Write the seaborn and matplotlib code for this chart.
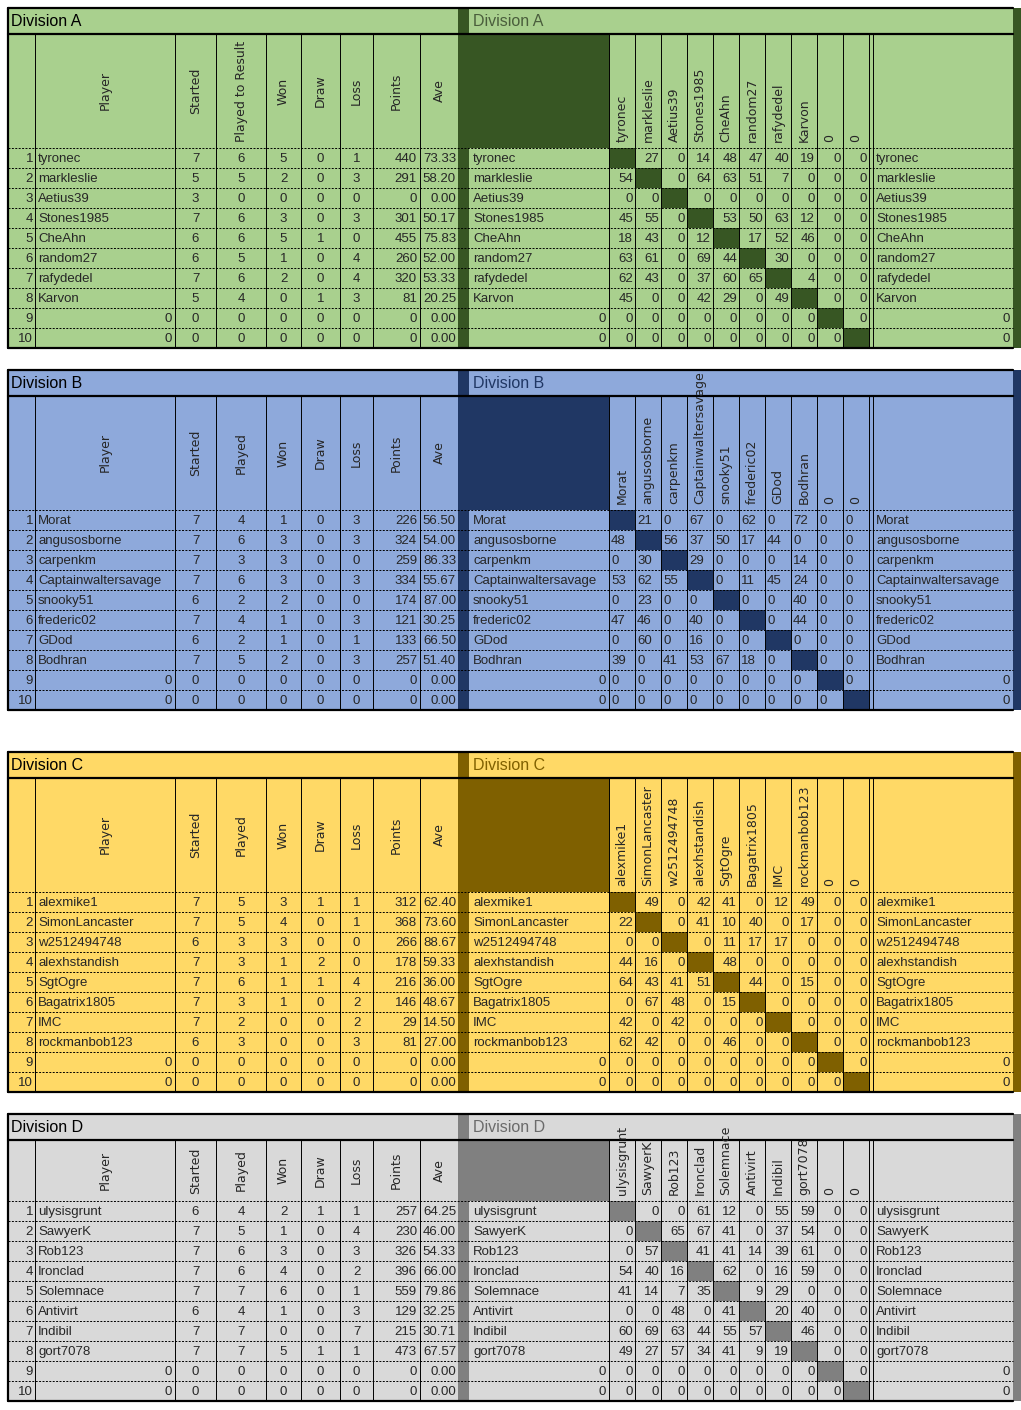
import matplotlib
matplotlib.use("Agg")
import matplotlib.pyplot as plt
from matplotlib.patches import Rectangle
import seaborn as sns

# ---- data ----
names_a = ["tyronec", "markleslie", "Aetius39", "Stones1985", "CheAhn", "random27", "rafydedel", "Karvon"]
started_a = [7, 5, 3, 7, 6, 6, 7, 5]
played_a = [6, 5, 0, 6, 6, 5, 6, 4]
won_a = [5, 2, 0, 3, 5, 1, 2, 0]
draw_a = [0, 0, 0, 0, 1, 0, 0, 1]
loss_a = [1, 3, 0, 3, 0, 4, 4, 3]
points_a = [440, 291, 0, 301, 455, 260, 320, 81]
ave_a = [73.33, 58.20, 0.00, 50.17, 75.83, 52.00, 53.33, 20.25]
cross_a = [[None, 27, 0, 14, 48, 47, 40, 19],
           [54, None, 0, 64, 63, 51, 7, 0],
           [0, 0, None, 0, 0, 0, 0, 0],
           [45, 55, 0, None, 53, 50, 63, 12],
           [18, 43, 0, 12, None, 17, 52, 46],
           [63, 61, 0, 69, 44, None, 30, 0],
           [62, 43, 0, 37, 60, 65, None, 4],
           [45, 0, 0, 42, 29, 0, 49, None]]

names_b = ["Morat", "angusosborne", "carpenkm", "Captainwaltersavage", "snooky51", "frederic02", "GDod", "Bodhran"]
started_b = [7, 7, 7, 7, 6, 7, 6, 7]
played_b = [4, 6, 3, 6, 2, 4, 2, 5]
won_b = [1, 3, 3, 3, 2, 1, 1, 2]
draw_b = [0, 0, 0, 0, 0, 0, 0, 0]
loss_b = [3, 3, 0, 3, 0, 3, 1, 3]
points_b = [226, 324, 259, 334, 174, 121, 133, 257]
ave_b = [56.50, 54.00, 86.33, 55.67, 87.00, 30.25, 66.50, 51.40]
cross_b = [[None, 21, 0, 67, 0, 62, 0, 72],
           [48, None, 56, 37, 50, 17, 44, 0],
           [0, 30, None, 29, 0, 0, 0, 14],
           [53, 62, 55, None, 0, 11, 45, 24],
           [0, 23, 0, 0, None, 0, 0, 40],
           [47, 46, 0, 40, 0, None, 0, 44],
           [0, 60, 0, 16, 0, 0, None, 0],
           [39, 0, 41, 53, 67, 18, 0, None]]

names_c = ["alexmike1", "SimonLancaster", "w2512494748", "alexhstandish", "SgtOgre", "Bagatrix1805", "IMC", "rockmanbob123"]
started_c = [7, 7, 6, 7, 7, 7, 7, 6]
played_c = [5, 5, 3, 3, 6, 3, 2, 3]
won_c = [3, 4, 3, 1, 1, 1, 0, 0]
draw_c = [1, 0, 0, 2, 1, 0, 0, 0]
loss_c = [1, 1, 0, 0, 4, 2, 2, 3]
points_c = [312, 368, 266, 178, 216, 146, 29, 81]
ave_c = [62.40, 73.60, 88.67, 59.33, 36.00, 48.67, 14.50, 27.00]
cross_c = [[None, 49, 0, 42, 41, 0, 12, 49],
           [22, None, 0, 41, 10, 40, 0, 17],
           [0, 0, None, 0, 11, 17, 17, 0],
           [44, 16, 0, None, 48, 0, 0, 0],
           [64, 43, 41, 51, None, 44, 0, 15],
           [0, 67, 48, 0, 15, None, 0, 0],
           [42, 0, 42, 0, 0, 0, None, 0],
           [62, 42, 0, 0, 46, 0, 0, None]]

names_d = ["ulysisgrunt", "SawyerK", "Rob123", "Ironclad", "Solemnace", "Antivirt", "Indibil", "gort7078"]
started_d = [6, 7, 7, 7, 7, 6, 7, 7]
played_d = [4, 5, 6, 6, 7, 4, 7, 7]
won_d = [2, 1, 3, 4, 6, 1, 0, 5]
draw_d = [1, 0, 0, 0, 0, 0, 0, 1]
loss_d = [1, 4, 3, 2, 1, 3, 7, 1]
points_d = [257, 230, 326, 396, 559, 129, 215, 473]
ave_d = [64.25, 46.00, 54.33, 66.00, 79.86, 32.25, 30.71, 67.57]
cross_d = [[None, 0, 0, 61, 12, 0, 55, 59],
           [0, None, 65, 67, 41, 0, 37, 54],
           [0, 57, None, 41, 41, 14, 39, 61],
           [54, 40, 16, None, 62, 0, 16, 59],
           [41, 14, 7, 35, None, 9, 29, 0],
           [0, 0, 48, 0, 41, None, 20, 40],
           [60, 69, 63, 44, 55, 57, None, 46],
           [49, 27, 57, 34, 41, 9, 19, None]]

divisions = [
    ("Division A", "Played to Result", names_a, started_a, played_a, won_a, draw_a, loss_a, points_a, ave_a, cross_a),
    ("Division B", "Played", names_b, started_b, played_b, won_b, draw_b, loss_b, points_b, ave_b, cross_b),
    ("Division C", "Played", names_c, started_c, played_c, won_c, draw_c, loss_c, points_c, ave_c, cross_c),
    ("Division D", "Played", names_d, started_d, played_d, won_d, draw_d, loss_d, points_d, ave_d, cross_d),
]

# ---- styling / layout (pixels) ----
light = ["#a9d08e", "#8ea9db", "#ffd966", "#d9d9d9"]
dark = ["#375623", "#203764", "#7f6000", "#808080"]
title_col = ["#4a5e3c", "#203764", "#806000", "#6b6b6b"]
tops = [8, 370, 752, 1114]
head_h = [114, 114, 114, 61]
ROW = 20
left_cols = [8, 35, 175, 216, 266, 301, 340, 373, 420, 458]
cross_x0, cw = 609, 26
right_end = 1019

sns.set_theme(style="white")
plt.rcParams["font.family"] = ["Liberation Sans", "DejaVu Sans"]

fig = plt.figure(figsize=(10.21, 14.10), dpi=100)
ax = fig.add_axes([0, 0, 1, 1])
ax.set_xlim(0, 1021)
ax.set_ylim(1410, 0)
ax.axis("off")
FS = 9.5


def rect(x0, y0, x1, y1, fc, ec="none", lw=0, z=1):
    ax.add_patch(Rectangle((x0, y0), x1 - x0, y1 - y0, facecolor=fc, edgecolor=ec, linewidth=lw, zorder=z))


for k, (title, played_lbl, names, st, pl, wo, dr, lo, pts, av, cross) in enumerate(divisions):
    top = tops[k]
    hh = head_h[k]
    y_rows = top + 26 + hh
    bottom = y_rows + 10 * ROW
    lt, dk = light[k], dark[k]
    rect(8, top, right_end, bottom, lt)
    # separator and dark header block
    rect(458, top, 469, bottom, dk, z=2)
    rect(469, top + 26, cross_x0, y_rows, dk, z=2)
    rect(1013, top, 1021, bottom, dk, z=2)
    ax.text(11, top + 13, title, fontsize=11.5, va="center", ha="left", color="black")
    ax.text(473, top + 13, title, fontsize=11.5, va="center", ha="left", color=title_col[k], zorder=3)
    # lines
    ax.plot([8, 1013], [top + 26, top + 26], color="black", lw=1.6, zorder=4)
    ax.plot([8, 1013], [bottom, bottom], color="black", lw=1.6, zorder=4)
    ax.plot([8, 1013], [top, top], color="black", lw=1.6, zorder=4)
    ax.plot([8, 8], [top, bottom], color="black", lw=1.6, zorder=4)
    for i in range(10):
        y = y_rows + i * ROW
        ax.plot([8, 1013], [y, y], color="black", lw=0.7, ls=(0, (2, 1.5)), zorder=4)
    for x in left_cols[1:-1]:
        ax.plot([x, x], [top + 26, bottom], color="black", lw=0.7, zorder=4)
    for j in range(11):
        x = cross_x0 + j * cw
        ax.plot([x, x], [top + 26, bottom], color="black", lw=0.7, zorder=4)
    ax.plot([cross_x0 + 10 * cw + 4] * 2, [top + 26, bottom], color="black", lw=0.7, zorder=4)

    # left headers
    hdrs = ["Player", "Started", played_lbl, "Won", "Draw", "Loss", "Points", "Ave"]
    for h, (x0, x1) in zip(hdrs, zip(left_cols[1:-1], left_cols[2:])):
        ax.text((x0 + x1) / 2, y_rows - 6 if k < 3 and len(h) > 10 else top + 26 + hh / 2,
                h, rotation=90, ha="center", va="bottom" if (k < 3 and len(h) > 10) else "center",
                fontsize=9, family="DejaVu Sans", zorder=5)
    # crosstable headers
    col_names = names + ["0", "0"]
    for j, nm in enumerate(col_names):
        cx = cross_x0 + j * cw + cw / 2
        clip = Rectangle((cross_x0 + j * cw, top + 26), cw, hh, transform=ax.transData)
        t = ax.text(cx, y_rows - 6, nm, rotation=90, ha="center", va="bottom", fontsize=9,
                    family="DejaVu Sans", zorder=5)
        t.set_clip_path(clip)

    # rows
    all_names = names + ["0", "0"]
    zeros = [0, 0]
    cols = [st + zeros, pl + zeros, wo + zeros, dr + zeros, lo + zeros, pts + zeros]
    for i in range(10):
        yc = y_rows + i * ROW + ROW / 2 + 1
        ax.text(33, yc, str(i + 1), ha="right", va="center", fontsize=FS, zorder=5)
        if i < 8:
            ax.text(38, yc, all_names[i], ha="left", va="center", fontsize=FS, zorder=5)
            ax.text(473, yc, all_names[i], ha="left", va="center", fontsize=FS, zorder=5)
            ax.text(876, yc, all_names[i], ha="left", va="center", fontsize=FS, zorder=5)
        else:
            ax.text(172, yc, "0", ha="right", va="center", fontsize=FS, zorder=5)
            ax.text(606, yc, "0", ha="right", va="center", fontsize=FS, zorder=5)
            ax.text(1010, yc, "0", ha="right", va="center", fontsize=FS, zorder=5)
        for c, vals in enumerate(cols):
            x0, x1 = left_cols[2 + c], left_cols[3 + c]
            if c == 5:
                ax.text(x1 - 3, yc, str(vals[i]), ha="right", va="center", fontsize=FS, zorder=5)
            else:
                ax.text((x0 + x1) / 2, yc, str(vals[i]), ha="center", va="center", fontsize=FS, zorder=5)
        a = av[i] if i < 8 else 0.0
        ax.text(456, yc, f"{a:.2f}", ha="right", va="center", fontsize=FS, zorder=5)
        # crosstable
        for j in range(10):
            x0 = cross_x0 + j * cw
            if i == j:
                rect(x0, y_rows + i * ROW, x0 + cw, y_rows + (i + 1) * ROW, dk, z=3)
                continue
            v = cross[i][j] if (i < 8 and j < 8) else 0
            if k == 1:
                ax.text(x0 + 2, yc, str(v), ha="left", va="center", fontsize=FS, zorder=5)
            else:
                ax.text(x0 + cw - 2, yc, str(v), ha="right", va="center", fontsize=FS, zorder=5)

fig.savefig("out.png", dpi=100)
